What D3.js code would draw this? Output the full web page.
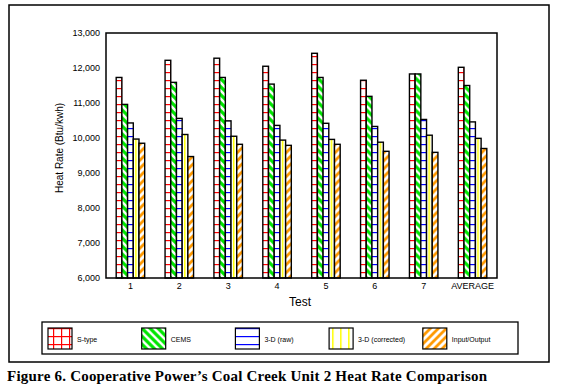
<!DOCTYPE html>
<html>
<head>
<meta charset="utf-8">
<script src="https://cdn.jsdelivr.net/npm/d3@7"></script>
<style>
  body { margin: 0; background: #fff; }
  svg text { font-family: Arial, "Liberation Sans", sans-serif; }
</style>
</head>
<body>
<svg width="561" height="390"></svg>
<script>
const svg = d3.select("svg");

// chart data
const tests = ["1", "2", "3", "4", "5", "6", "7", "AVERAGE"];
const seriesNames = ["S-type", "CEMS", "3-D (raw)", "3-D (corrected)", "Input/Output"];
const sType     = [11730, 12220, 12280, 12050, 12420, 11650, 11830, 12020];
const cems      = [10960, 11590, 11730, 11540, 11730, 11190, 11830, 11500];
const raw3d     = [10430, 10560, 10490, 10360, 10420, 10330, 10530, 10460];
const corr3d    = [9970, 10100, 10050, 9940, 9960, 9880, 10080, 9990];
const inOut     = [9850, 9470, 9820, 9790, 9820, 9620, 9590, 9700];
const yTicks = [6000, 7000, 8000, 9000, 10000, 11000, 12000, 13000];

const allSeries = [sType, cems, raw3d, corr3d, inOut];
const patIds = ["pat-s", "pat-cems", "pat-raw", "pat-corr", "pat-io"];

// patterns
const defs = svg.append("defs");

function makePattern(id, draw) {
    let p = defs.append("pattern")
        .attr("id", id)
        .attr("patternUnits", "userSpaceOnUse")
        .attr("width", 8)
        .attr("height", 8);
    p.append("rect").attr("width", 8).attr("height", 8).attr("fill", "#fff");
    draw(p);
}

makePattern("pat-s", p => {
    p.append("rect").attr("x", 0).attr("y", 0).attr("width", 8).attr("height", 1.2).attr("fill", "#ff0000");
    p.append("rect").attr("x", 5).attr("y", 0).attr("width", 1.2).attr("height", 8).attr("fill", "#ff0000");
});
makePattern("pat-cems", p => {
    p.append("path").attr("d", "M-2,-2 L10,10 M-6,2 L2,10 M6,-2 L10,2")
        .attr("stroke", "#00e600").attr("stroke-width", 3.2);
});
makePattern("pat-raw", p => {
    p.append("rect").attr("x", 0).attr("y", 0).attr("width", 8).attr("height", 1.2).attr("fill", "#0000ff");
});
makePattern("pat-corr", p => {
    p.append("rect").attr("x", 3).attr("y", 0).attr("width", 1.5).attr("height", 8).attr("fill", "#ffff00");
});
makePattern("pat-io", p => {
    p.append("path").attr("d", "M-2,10 L10,-2 M-2,2 L2,-2 M6,10 L10,6")
        .attr("stroke", "#ff9900").attr("stroke-width", 2.8);
});

// outer frame
svg.append("rect")
    .attr("x", 9).attr("y", 5)
    .attr("width", 540).attr("height", 357)
    .attr("fill", "none").attr("stroke", "#000").attr("stroke-width", 1.5);

const plot = { left: 106, right: 497, top: 33, bottom: 278 };

const x0 = d3.scaleBand()
    .domain(tests)
    .range([plot.left, plot.right])
    .paddingInner(0.417)
    .paddingOuter(0.2085);

const x1 = d3.scaleBand()
    .domain(d3.range(seriesNames.length))
    .range([0, x0.bandwidth()]);

const y = d3.scaleLinear()
    .domain([6000, 13000])
    .range([plot.bottom, plot.top]);

// bars
const groups = svg.append("g").selectAll("g")
    .data(tests)
    .enter()
    .append("g")
    .attr("transform", d => `translate(${x0(d)},0)`);

groups.selectAll("rect")
    .data((d, i) => allSeries.map((s, k) => ({ k: k, v: s[i] })))
    .enter()
    .append("rect")
    .attr("x", d => x1(d.k))
    .attr("width", x1.bandwidth())
    .attr("y", d => y(d.v))
    .attr("height", d => plot.bottom - y(d.v))
    .attr("fill", d => `url(#${patIds[d.k]})`)
    .attr("stroke", "#000")
    .attr("stroke-width", 1.4);

// plot frame
svg.append("rect")
    .attr("x", plot.left).attr("y", plot.top)
    .attr("width", plot.right - plot.left)
    .attr("height", plot.bottom - plot.top)
    .attr("fill", "none").attr("stroke", "#000").attr("stroke-width", 1.5);

// y axis labels
const yAxis = d3.axisLeft(y)
    .tickValues(yTicks)
    .tickSize(0)
    .tickPadding(6)
    .tickFormat(d3.format(","));
svg.append("g")
    .attr("transform", `translate(${plot.left},0)`)
    .call(yAxis)
    .call(g => g.select(".domain").remove())
    .selectAll("text")
    .attr("font-size", 9)
    .attr("fill", "#000");

// x axis labels
const xAxis = d3.axisBottom(x0).tickSize(0).tickPadding(5);
svg.append("g")
    .attr("transform", `translate(0,${plot.bottom})`)
    .call(xAxis)
    .call(g => g.select(".domain").remove())
    .selectAll("text")
    .attr("font-size", 9)
    .attr("fill", "#000");

svg.append("text")
    .attr("x", 300).attr("y", 306)
    .attr("text-anchor", "middle")
    .attr("font-size", 12)
    .text("Test");

svg.append("text")
    .attr("transform", "translate(63,148) rotate(-90)")
    .attr("text-anchor", "middle")
    .attr("font-size", 10)
    .text("Heat Rate (Btu/kwh)");

// legend
svg.append("rect")
    .attr("x", 42).attr("y", 322)
    .attr("width", 476).attr("height", 32)
    .attr("fill", "none").attr("stroke", "#000").attr("stroke-width", 1.3);

const legend = svg.append("g").selectAll("g")
    .data(seriesNames)
    .enter()
    .append("g")
    .attr("transform", (d, i) => `translate(${48 + i * 93.7},328)`);

legend.append("rect")
    .attr("width", 24).attr("height", 21)
    .attr("fill", (d, i) => `url(#${patIds[i]})`)
    .attr("stroke", "#000").attr("stroke-width", 1.2);

legend.append("text")
    .attr("x", 29).attr("y", 13.5)
    .attr("font-size", 7)
    .text(d => d);

// caption
svg.append("text")
    .attr("x", 7).attr("y", 381)
    .style("font-family", "'Liberation Serif', 'Times New Roman', serif")
    .attr("font-weight", "bold")
    .attr("font-size", 15)
    .attr("textLength", 480)
    .attr("lengthAdjust", "spacing")
    .text("Figure 6. Cooperative Power\u2019s Coal Creek Unit 2 Heat Rate Comparison");
</script>
</body>
</html>
